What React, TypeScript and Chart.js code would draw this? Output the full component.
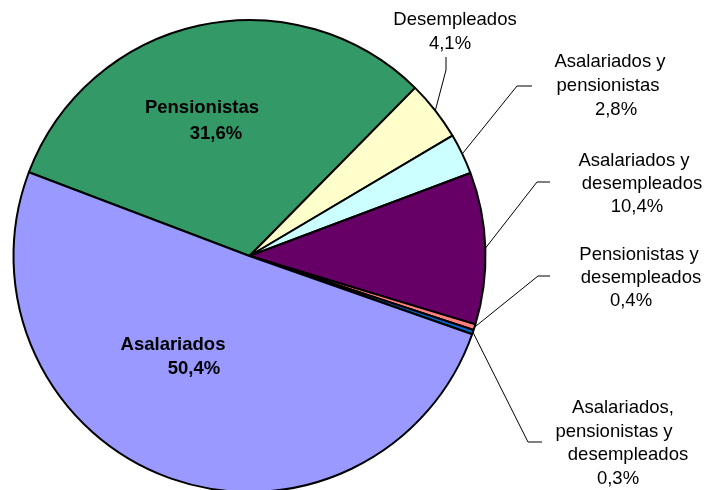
import React, { useEffect, useRef } from "react";
import { Chart, registerables } from "chart.js";

Chart.register(...registerables);

const categories = [
  "Pensionistas",
  "Desempleados",
  "Asalariados y pensionistas",
  "Asalariados y desempleados",
  "Pensionistas y desempleados",
  "Asalariados, pensionistas y desempleados",
  "Asalariados",
];
const values = [31.6, 4.1, 2.8, 10.4, 0.4, 0.3, 50.4];
const valueLabels = ["31,6%", "4,1%", "2,8%", "10,4%", "0,4%", "0,3%", "50,4%"];
const colors = ["#339966", "#FFFFCC", "#CCFFFF", "#660066", "#FF8080", "#0066CC", "#9999FF"];

type LabelSpec = {
  index: number;
  lines: string[];
  xs: number[];
  ys: number[];
  bold?: boolean;
  elbow?: [number, number];
  end?: [number, number];
};

const labelSpecs: LabelSpec[] = [
  { index: 0, lines: ["Pensionistas", valueLabels[0]], xs: [202, 216], ys: [113, 139], bold: true },
  { index: 6, lines: ["Asalariados", valueLabels[6]], xs: [173, 194], ys: [350, 374], bold: true },
  { index: 1, lines: ["Desempleados", valueLabels[1]], xs: [455, 450], ys: [25, 49], elbow: [446, 70], end: [446, 57] },
  { index: 2, lines: ["Asalariados y", "pensionistas", valueLabels[2]], xs: [610, 608, 616], ys: [67, 91, 115], elbow: [517, 86], end: [532, 86] },
  { index: 3, lines: ["Asalariados y", "desempleados", valueLabels[3]], xs: [634, 642, 637], ys: [166, 189, 212], elbow: [537, 182], end: [550, 182] },
  { index: 4, lines: ["Pensionistas y", "desempleados", valueLabels[4]], xs: [639, 641, 631], ys: [260, 283, 306], elbow: [538, 276], end: [550, 276] },
  { index: 5, lines: ["Asalariados,", "pensionistas y", "desempleados", valueLabels[5]], xs: [623, 614, 628, 618], ys: [413, 437, 460, 484], elbow: [528, 442], end: [542, 442] },
];

const labelPlugin = {
  id: "pieLabels",
  afterDraw(chart: any) {
    const ctx = chart.ctx;
    const meta = chart.getDatasetMeta(0);
    ctx.save();
    for (const spec of labelSpecs) {
      const arc = meta.data[spec.index];
      if (spec.elbow && spec.end && arc) {
        const p = arc.getProps(["x", "y", "startAngle", "endAngle", "outerRadius"], true);
        const mid = (p.startAngle + p.endAngle) / 2;
        const ax = p.x + Math.cos(mid) * p.outerRadius;
        const ay = p.y + Math.sin(mid) * p.outerRadius;
        ctx.beginPath();
        ctx.strokeStyle = "#000";
        ctx.lineWidth = 1;
        ctx.moveTo(ax, ay);
        ctx.lineTo(spec.elbow[0], spec.elbow[1]);
        ctx.lineTo(spec.end[0], spec.end[1]);
        ctx.stroke();
      }
      ctx.fillStyle = "#000";
      ctx.textAlign = "center";
      ctx.textBaseline = "alphabetic";
      ctx.font = `${spec.bold ? "bold " : ""}18.5px "Liberation Sans", Arial, sans-serif`;
      spec.lines.forEach((line, i) => {
        ctx.fillText(line, spec.xs[i], spec.ys[i]);
      });
    }
    ctx.restore();
  },
};

export default function App() {
  const canvasRef = useRef<HTMLCanvasElement | null>(null);

  useEffect(() => {
    document.body.style.margin = "0";
    document.body.style.overflow = "hidden";
    const canvas = canvasRef.current;
    if (!canvas) return;
    const chart = new Chart(canvas, {
      type: "pie",
      data: {
        labels: categories,
        datasets: [
          {
            data: values,
            backgroundColor: colors,
            borderColor: "#000000",
            borderWidth: 2,
          },
        ],
      },
      options: {
        responsive: false,
        animation: false,
        rotation: -69.2,
        layout: { padding: { left: 12.5, top: 19, right: 217.5, bottom: 19 } },
        plugins: {
          legend: { display: false },
          tooltip: { enabled: false },
          title: { display: false },
        },
        events: [],
      },
      plugins: [labelPlugin],
    });
    return () => chart.destroy();
  }, []);

  return (
    <div style={{ position: "fixed", left: 0, top: 0, width: 704, height: 512, background: "#fff" }}>
      <canvas ref={canvasRef} width={704} height={512} />
    </div>
  );
}
